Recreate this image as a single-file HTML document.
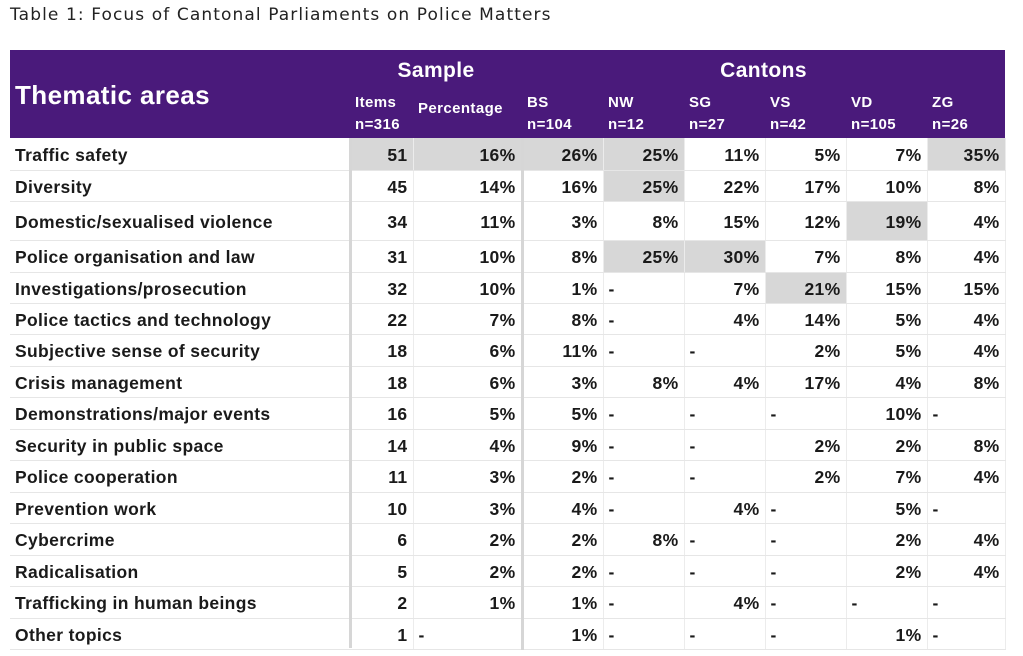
<!DOCTYPE html>
<html><head><meta charset="utf-8"><style>
body{margin:0;width:1023px;height:656px;background:#fff;font-family:"Liberation Sans",sans-serif;overflow:hidden;position:relative}
.title{position:absolute;left:10px;top:5px;font-family:"DejaVu Sans",sans-serif;font-size:17px;color:#222;letter-spacing:1.1px}
table{position:absolute;left:10px;top:50px;border-collapse:collapse;table-layout:fixed;width:995px}
th{background:#4a1a7b;color:#fff;font-weight:bold;text-align:left;padding:0 5px;letter-spacing:0.4px}
td{font-size:17.5px;font-weight:bold;color:#1a1a1a;padding:0 5px;padding-top:3px;border-bottom:1px solid #e6e6e6;border-right:1px solid #ececec;text-align:right;letter-spacing:0.35px}
td.l{text-align:left;border-right:none}
td.d{text-align:left}
td.s{border-right:3px solid #d6d6d6}
.g{background:#d7d7d7}
.big{font-size:26px}
.sub{font-size:15px;line-height:22px;vertical-align:bottom;padding-bottom:2px}
</style></head><body>
<div class="title">Table 1: Focus of Cantonal Parliaments on Police Matters</div>
<table>
<colgroup><col style="width:340px"><col style="width:63px"><col style="width:109px"><col style="width:81px"><col style="width:81px"><col style="width:81px"><col style="width:81px"><col style="width:81px"><col style="width:78px"></colgroup>
<tr style="height:38px"><th rowspan="2" class="big" style="vertical-align:middle;padding-top:2px">Thematic areas</th><th colspan="2" style="text-align:center;font-size:21px;padding-top:4px">Sample</th><th colspan="6" style="text-align:center;font-size:21px;padding-top:4px">Cantons</th></tr>
<tr style="height:50px"><th class="sub">Items<br>n=316</th><th class="sub" style="vertical-align:middle;padding-bottom:8px">Percentage</th><th class="sub">BS<br>n=104</th><th class="sub">NW<br>n=12</th><th class="sub">SG<br>n=27</th><th class="sub">VS<br>n=42</th><th class="sub">VD<br>n=105</th><th class="sub">ZG<br>n=26</th></tr>
<tr style="height:32px"><td class="l">Traffic safety</td><td class="g">51</td><td class="g s">16%</td><td class="g">26%</td><td class="g">25%</td><td>11%</td><td>5%</td><td>7%</td><td class="g">35%</td></tr>
<tr style="height:31px"><td class="l">Diversity</td><td>45</td><td class="s">14%</td><td>16%</td><td class="g">25%</td><td>22%</td><td>17%</td><td>10%</td><td>8%</td></tr>
<tr style="height:39px"><td class="l">Domestic/sexualised violence</td><td>34</td><td class="s">11%</td><td>3%</td><td>8%</td><td>15%</td><td>12%</td><td class="g">19%</td><td>4%</td></tr>
<tr style="height:32px"><td class="l">Police organisation and law</td><td>31</td><td class="s">10%</td><td>8%</td><td class="g">25%</td><td class="g">30%</td><td>7%</td><td>8%</td><td>4%</td></tr>
<tr style="height:31px"><td class="l">Investigations/prosecution</td><td>32</td><td class="s">10%</td><td>1%</td><td class="d">-</td><td>7%</td><td class="g">21%</td><td>15%</td><td>15%</td></tr>
<tr style="height:31.5px"><td class="l">Police tactics and technology</td><td>22</td><td class="s">7%</td><td>8%</td><td class="d">-</td><td>4%</td><td>14%</td><td>5%</td><td>4%</td></tr>
<tr style="height:31.5px"><td class="l">Subjective sense of security</td><td>18</td><td class="s">6%</td><td>11%</td><td class="d">-</td><td class="d">-</td><td>2%</td><td>5%</td><td>4%</td></tr>
<tr style="height:31.5px"><td class="l">Crisis management</td><td>18</td><td class="s">6%</td><td>3%</td><td>8%</td><td>4%</td><td>17%</td><td>4%</td><td>8%</td></tr>
<tr style="height:31.5px"><td class="l">Demonstrations/major events</td><td>16</td><td class="s">5%</td><td>5%</td><td class="d">-</td><td class="d">-</td><td class="d">-</td><td>10%</td><td class="d">-</td></tr>
<tr style="height:31.5px"><td class="l">Security in public space</td><td>14</td><td class="s">4%</td><td>9%</td><td class="d">-</td><td class="d">-</td><td>2%</td><td>2%</td><td>8%</td></tr>
<tr style="height:31.5px"><td class="l">Police cooperation</td><td>11</td><td class="s">3%</td><td>2%</td><td class="d">-</td><td class="d">-</td><td>2%</td><td>7%</td><td>4%</td></tr>
<tr style="height:31.5px"><td class="l">Prevention work</td><td>10</td><td class="s">3%</td><td>4%</td><td class="d">-</td><td>4%</td><td class="d">-</td><td>5%</td><td class="d">-</td></tr>
<tr style="height:31.5px"><td class="l">Cybercrime</td><td>6</td><td class="s">2%</td><td>2%</td><td>8%</td><td class="d">-</td><td class="d">-</td><td>2%</td><td>4%</td></tr>
<tr style="height:31.5px"><td class="l">Radicalisation</td><td>5</td><td class="s">2%</td><td>2%</td><td class="d">-</td><td class="d">-</td><td class="d">-</td><td>2%</td><td>4%</td></tr>
<tr style="height:31.5px"><td class="l">Trafficking in human beings</td><td>2</td><td class="s">1%</td><td>1%</td><td class="d">-</td><td>4%</td><td class="d">-</td><td class="d">-</td><td class="d">-</td></tr>
<tr style="height:31.5px"><td class="l">Other topics</td><td>1</td><td class="s d">-</td><td>1%</td><td class="d">-</td><td class="d">-</td><td class="d">-</td><td>1%</td><td class="d">-</td></tr>
</table>
<div style="position:absolute;left:349px;top:138px;width:3px;height:510px;background:#d6d6d6"></div>
</body></html>
